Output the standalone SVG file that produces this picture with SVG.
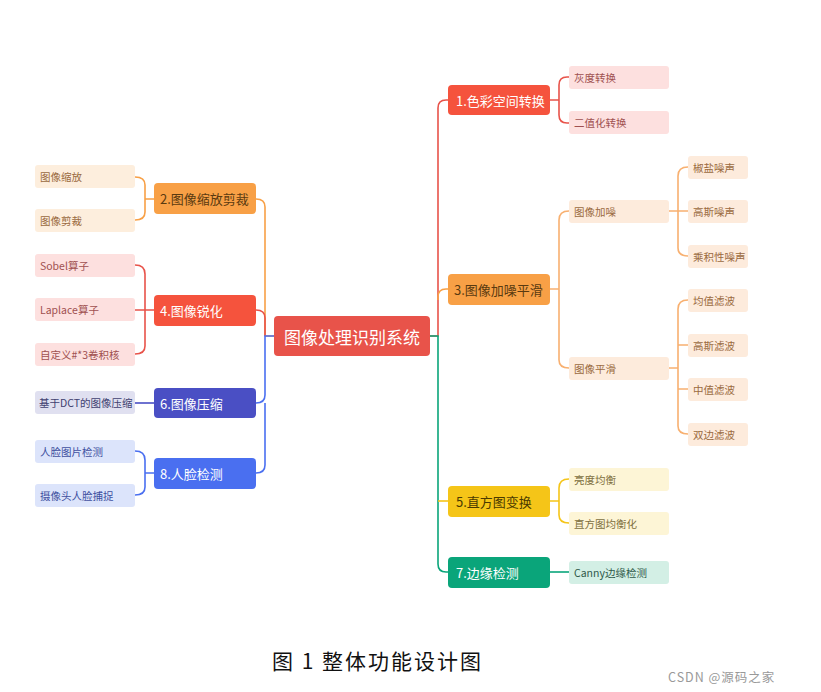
<svg xmlns="http://www.w3.org/2000/svg" width="821" height="692" viewBox="0 0 821 692">
<style>
text{font-family:"Noto Sans CJK SC","Liberation Sans",sans-serif;dominant-baseline:central}
.b{font-size:13px;fill:#fff}
.s{font-size:10.5px}
.c path{fill:none;stroke-width:1.6}
</style>
<rect width="821" height="692" fill="#fff"/>
<g class="c" id="connectors">
<path d="M430 336H438V108Q438 100 446 100H448" stroke="#e8534a"/>
<path d="M438 300V297Q438 289 446 289H448" stroke="#f8a046"/>
<path d="M430 336H438V564Q438 572 446 572H448" stroke="#0aa57a"/>
<path d="M438 501Q438 501 448 501" stroke="#f5c518"/>
<path d="M550 100H559M559 100V85Q559 77 567 77H569M559 100V115Q559 123 567 123H569" stroke="#e8534a"/>
<path d="M550 289H559M559 289V220Q559 211 569 211M559 289V360Q559 368 569 368" stroke="#f8b070"/>
<path d="M669 211H678M678 211V176Q678 167 688 167M678 211H688M678 211V248Q678 256 688 256" stroke="#f8b070"/>
<path d="M669 368H678M678 368V309Q678 300 688 300M678 345H688M678 389H688M678 368V426Q678 434 688 434" stroke="#f8b070"/>
<path d="M550 501H559M559 501V488Q559 479 569 479M559 501V515Q559 523 569 523" stroke="#f5c518"/>
<path d="M550 572H569" stroke="#0aa57a"/>
<path d="M274 336H265V207Q265 199 256 199" stroke="#f8a046"/>
<path d="M265 336V318Q265 310 256 310" stroke="#e8534a"/>
<path d="M274 336H265V395Q265 403 256 403M265 403V465Q265 473 256 473" stroke="#4a6ff0"/>
<path d="M154 199H145M145 199V185Q145 177 135 177M145 199V212Q145 220 135 220" stroke="#f8a046"/>
<path d="M154 310H145M145 310V274Q145 265 135 265M145 310H135M145 310V346Q145 354 135 354" stroke="#e8534a"/>
<path d="M154 403H135" stroke="#4a4fc4"/>
<path d="M154 473H145M145 473V460Q145 451 135 451M145 473V487Q145 495 135 495" stroke="#4a6ff0"/>
</g>
<g id="root"><rect x="274" y="316" width="156" height="40" rx="4" fill="#e8534a"/><text x="352" y="336" text-anchor="middle" font-size="17" fill="#fff">图像处理识别系统</text></g>
<g id="n1"><rect x="448" y="85" width="102" height="30" rx="4" fill="#f5533d"/><text class="b" x="456" y="100">1.色彩空间转换</text></g>
<g id="n1a"><rect x="569" y="66" width="100" height="23" rx="3" fill="#fde0df"/><text class="s" x="574" y="77.5" fill="#a05050">灰度转换</text></g>
<g id="n1b"><rect x="569" y="111" width="100" height="23" rx="3" fill="#fde0df"/><text class="s" x="574" y="122.5" fill="#a05050">二值化转换</text></g>
<g id="n3"><rect x="448" y="274" width="102" height="31" rx="4" fill="#f8a046"/><text class="b" x="454" y="289.5" style="fill:#5a3a10">3.图像加噪平滑</text></g>
<g id="n3a"><rect x="569" y="200" width="100" height="23" rx="3" fill="#fdebdc"/><text class="s" x="574" y="211.5" fill="#9a6a40">图像加噪</text></g>
<g id="n3b"><rect x="569" y="357" width="100" height="23" rx="3" fill="#fdebdc"/><text class="s" x="574" y="368.5" fill="#9a6a40">图像平滑</text></g>
<g id="g1"><rect x="688" y="156" width="60" height="23" rx="3" fill="#fdebdc"/><text class="s" x="693" y="167.5" fill="#9a6a40">椒盐噪声</text></g>
<g id="g2"><rect x="688" y="200" width="60" height="23" rx="3" fill="#fdebdc"/><text class="s" x="693" y="211.5" fill="#9a6a40">高斯噪声</text></g>
<g id="g3"><rect x="688" y="245" width="60" height="23" rx="3" fill="#fdebdc"/><text class="s" x="693" y="256.5" fill="#9a6a40">乘积性噪声</text></g>
<g id="g4"><rect x="688" y="289" width="60" height="23" rx="3" fill="#fdebdc"/><text class="s" x="693" y="300.5" fill="#9a6a40">均值滤波</text></g>
<g id="g5"><rect x="688" y="334" width="60" height="23" rx="3" fill="#fdebdc"/><text class="s" x="693" y="345.5" fill="#9a6a40">高斯滤波</text></g>
<g id="g6"><rect x="688" y="378" width="60" height="23" rx="3" fill="#fdebdc"/><text class="s" x="693" y="389.5" fill="#9a6a40">中值滤波</text></g>
<g id="g7"><rect x="688" y="423" width="60" height="23" rx="3" fill="#fdebdc"/><text class="s" x="693" y="434.5" fill="#9a6a40">双边滤波</text></g>
<g id="n5"><rect x="448" y="486" width="102" height="31" rx="4" fill="#f5c518"/><text class="b" x="456" y="501.5" style="fill:#4a3a00">5.直方图变换</text></g>
<g id="n5a"><rect x="569" y="468" width="100" height="23" rx="3" fill="#fdf5d6"/><text class="s" x="574" y="479.5" fill="#807040">亮度均衡</text></g>
<g id="n5b"><rect x="569" y="512" width="100" height="23" rx="3" fill="#fdf5d6"/><text class="s" x="574" y="523.5" fill="#807040">直方图均衡化</text></g>
<g id="n7"><rect x="448" y="557" width="102" height="31" rx="4" fill="#0aa57a"/><text class="b" x="456" y="572.5">7.边缘检测</text></g>
<g id="n7a"><rect x="569" y="561" width="100" height="23" rx="3" fill="#d3efe5"/><text class="s" x="574" y="572.5" fill="#305a4a">Canny边缘检测</text></g>
<g id="n2"><rect x="154" y="183" width="102" height="31" rx="4" fill="#f8a046"/><text class="b" x="160" y="198.5" style="fill:#5a3a10">2.图像缩放剪裁</text></g>
<g id="n2a"><rect x="35" y="165" width="100" height="23" rx="3" fill="#fdeedd"/><text class="s" x="40" y="176.5" fill="#9a6a40">图像缩放</text></g>
<g id="n2b"><rect x="35" y="209" width="100" height="23" rx="3" fill="#fdeedd"/><text class="s" x="40" y="220.5" fill="#9a6a40">图像剪裁</text></g>
<g id="n4"><rect x="154" y="295" width="102" height="31" rx="4" fill="#f5533d"/><text class="b" x="160" y="310.5">4.图像锐化</text></g>
<g id="n4a"><rect x="35" y="254" width="100" height="23" rx="3" fill="#fde0df"/><text class="s" x="40" y="265.5" fill="#a05050">Sobel算子</text></g>
<g id="n4b"><rect x="35" y="298" width="100" height="23" rx="3" fill="#fde0df"/><text class="s" x="40" y="309.5" fill="#a05050">Laplace算子</text></g>
<g id="n4c"><rect x="35" y="343" width="100" height="23" rx="3" fill="#fde0df"/><text class="s" x="40" y="354.5" fill="#a05050">自定义#*3卷积核</text></g>
<g id="n6"><rect x="154" y="388" width="102" height="30" rx="4" fill="#4a4fc4"/><text class="b" x="160" y="403">6.图像压缩</text></g>
<g id="n6a"><rect x="35" y="391" width="100" height="23" rx="3" fill="#e0e0f0"/><text class="s" x="39" y="402.5" fill="#404070">基于DCT的图像压缩</text></g>
<g id="n8"><rect x="154" y="458" width="102" height="31" rx="4" fill="#4a6ff0"/><text class="b" x="160" y="473.5">8.人脸检测</text></g>
<g id="n8a"><rect x="35" y="440" width="100" height="23" rx="3" fill="#dce4fb"/><text class="s" x="40" y="451.5" fill="#4050a0">人脸图片检测</text></g>
<g id="n8b"><rect x="35" y="484" width="100" height="23" rx="3" fill="#dce4fb"/><text class="s" x="40" y="495.5" fill="#4050a0">摄像头人脸捕捉</text></g>
<text x="272" y="660" font-size="21" letter-spacing="2" fill="#111">图 1  整体功能设计图</text>
<text x="668" y="676" font-size="12.5" letter-spacing="1" fill="#999">CSDN @源码之家</text>
</svg>
